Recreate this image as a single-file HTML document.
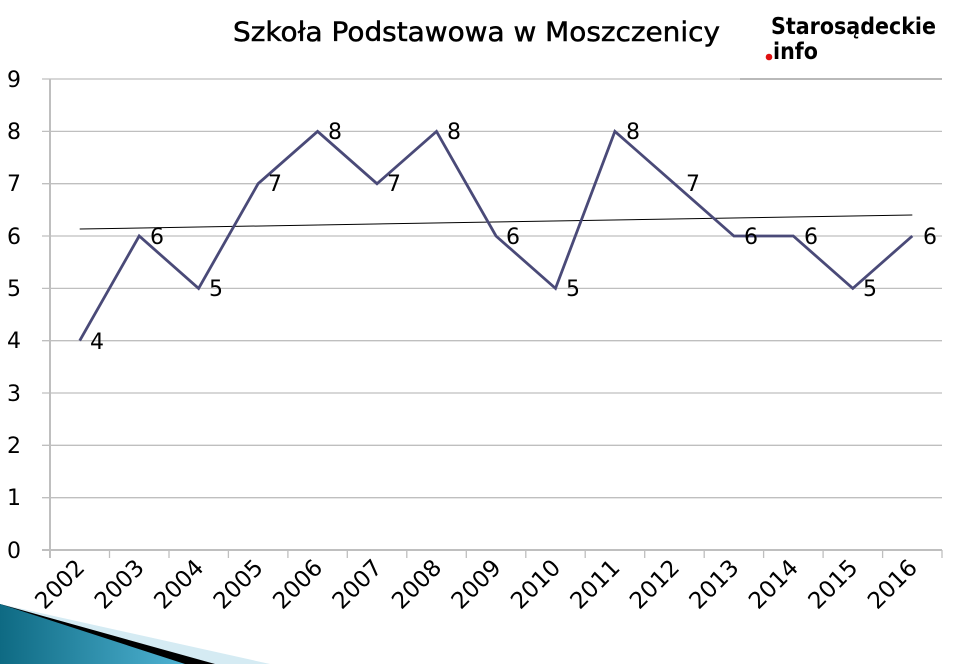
<!DOCTYPE html>
<html><head><meta charset="utf-8"><style>
html,body{margin:0;padding:0;background:#fff;width:956px;height:664px;overflow:hidden}
svg{display:block;font-family:"DejaVu Sans","Liberation Sans",sans-serif}
</style></head><body>
<svg width="956" height="664" viewBox="0 0 956 664">
<defs><linearGradient id="tg" x1="0" y1="0" x2="1" y2="0"><stop offset="0" stop-color="#0e6a83"/><stop offset="1" stop-color="#4fb3d3"/></linearGradient></defs>
<g stroke="#bfbfbf" stroke-width="1.3">
<line x1="42" y1="79" x2="942" y2="79"/><line x1="42" y1="131.4" x2="942" y2="131.4"/><line x1="42" y1="183.7" x2="942" y2="183.7"/><line x1="42" y1="236" x2="942" y2="236"/><line x1="42" y1="288.4" x2="942" y2="288.4"/><line x1="42" y1="340.7" x2="942" y2="340.7"/><line x1="42" y1="393" x2="942" y2="393"/><line x1="42" y1="445.3" x2="942" y2="445.3"/><line x1="42" y1="497.7" x2="942" y2="497.7"/>
<line x1="42" y1="550" x2="942" y2="550" stroke-width="2"/>
<line x1="50" y1="79" x2="50" y2="558" stroke-width="2"/>
<line x1="109.5" y1="550" x2="109.5" y2="558"/><line x1="169" y1="550" x2="169" y2="558"/><line x1="228.4" y1="550" x2="228.4" y2="558"/><line x1="287.9" y1="550" x2="287.9" y2="558"/><line x1="347.3" y1="550" x2="347.3" y2="558"/><line x1="406.8" y1="550" x2="406.8" y2="558"/><line x1="466.3" y1="550" x2="466.3" y2="558"/><line x1="525.8" y1="550" x2="525.8" y2="558"/><line x1="585.2" y1="550" x2="585.2" y2="558"/><line x1="644.7" y1="550" x2="644.7" y2="558"/><line x1="704.2" y1="550" x2="704.2" y2="558"/><line x1="763.6" y1="550" x2="763.6" y2="558"/><line x1="823.1" y1="550" x2="823.1" y2="558"/><line x1="882.6" y1="550" x2="882.6" y2="558"/><line x1="942" y1="550" x2="942" y2="558"/>
</g>
<g font-size="22" fill="#000" text-anchor="middle">
<text x="14" y="87">9</text><text x="14" y="139">8</text><text x="14" y="191">7</text><text x="14" y="244">6</text><text x="14" y="296">5</text><text x="14" y="348">4</text><text x="14" y="401">3</text><text x="14" y="453">2</text><text x="14" y="505">1</text><text x="14" y="558">0</text>
</g>
<line x1="79.7" y1="229" x2="912.3" y2="215" stroke="#000" stroke-width="1"/>
<polyline fill="none" stroke="#4a4a78" stroke-width="2.8" stroke-linejoin="miter" points="79.7,340.7 139.2,236 198.6,288.4 258.1,183.7 317.6,131.4 377,183.7 436.5,131.4 496,236 555.5,288.4 614.9,131.4 674.4,183.7 733.9,236 793.3,236 852.8,288.4 912.3,236"/>
<g font-size="22" fill="#000">
<text x="90" y="349">4</text><text x="150" y="244">6</text><text x="209" y="296">5</text><text x="268" y="191">7</text><text x="328" y="139">8</text><text x="387" y="191">7</text><text x="447" y="139">8</text><text x="506" y="244">6</text><text x="566" y="296">5</text><text x="626" y="139">8</text><text x="686" y="191">7</text><text x="744" y="244">6</text><text x="804" y="244">6</text><text x="863" y="296">5</text><text x="923" y="244">6</text>
</g>
<g font-size="23" fill="#000" text-anchor="end">
<text transform="translate(86,569) rotate(-45)">2002</text><text transform="translate(145.5,569) rotate(-45)">2003</text><text transform="translate(205,569) rotate(-45)">2004</text><text transform="translate(264.4,569) rotate(-45)">2005</text><text transform="translate(323.9,569) rotate(-45)">2006</text><text transform="translate(383.3,569) rotate(-45)">2007</text><text transform="translate(442.8,569) rotate(-45)">2008</text><text transform="translate(502.3,569) rotate(-45)">2009</text><text transform="translate(561.8,569) rotate(-45)">2010</text><text transform="translate(621.2,569) rotate(-45)">2011</text><text transform="translate(680.7,569) rotate(-45)">2012</text><text transform="translate(740.2,569) rotate(-45)">2013</text><text transform="translate(799.6,569) rotate(-45)">2014</text><text transform="translate(859.1,569) rotate(-45)">2015</text><text transform="translate(918.6,569) rotate(-45)">2016</text>
</g>
<text x="233" y="41" font-size="27" stroke="#000" stroke-width="0.5" textLength="487" lengthAdjust="spacingAndGlyphs">Szkoła Podstawowa w Moszczenicy</text>
<text x="771" y="34" font-size="23" font-weight="bold" textLength="165" lengthAdjust="spacingAndGlyphs">Starosądeckie</text>
<circle cx="769" cy="57" r="3.3" fill="#e01010"/>
<text x="773" y="59" font-size="23" font-weight="bold" textLength="45" lengthAdjust="spacingAndGlyphs">info</text>
<line x1="740" y1="79" x2="942" y2="79" stroke="#999" stroke-width="1.3"/>
<polygon points="0,604 270,664 0,664" fill="#d5ebf3"/>
<polygon points="0,604 215,664 0,664" fill="#000"/>
<polygon points="0,604 185,664 0,664" fill="url(#tg)"/>
</svg>
</body></html>
